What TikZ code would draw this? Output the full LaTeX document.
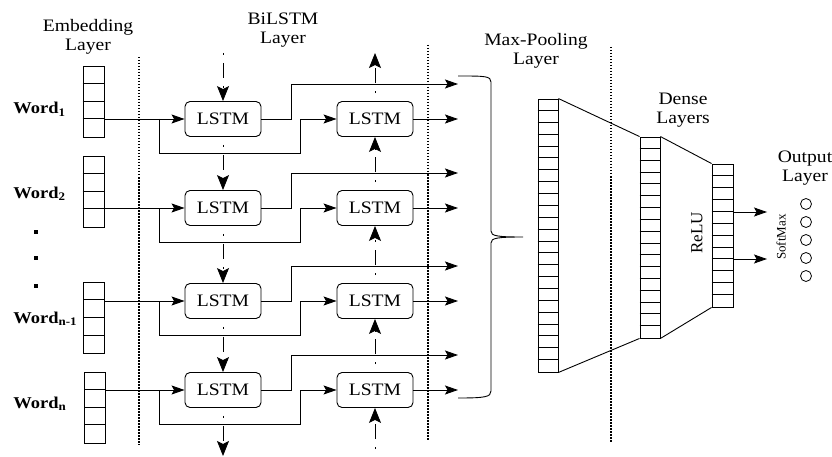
\documentclass[tikz,border=0pt]{standalone}
\usepackage{fontspec}
\setmainfont{Liberation Serif}[FakeStretch=1.12]
\newfontfamily\rotfont{Liberation Serif}
\usetikzlibrary{arrows.meta}
\tikzset{
  lstm/.style={draw, rounded corners=5pt, minimum width=76pt, minimum height=35pt, inner sep=0pt, font=\fontsize{17.5}{20}\selectfont},
  vec/.style={draw, minimum width=21pt, inner sep=0pt},
  arr/.style={-{Stealth[length=13pt,width=9pt,inset=2.5pt]}},
  recur/.style={-{Stealth[length=15pt,width=12pt,inset=3pt]}, dash pattern=on 15pt off 8pt on 2pt off 8pt, dash phase=15pt},
  sep/.style={line width=1.2pt, dash pattern=on 1.5pt off 1.5pt},
  title/.style={align=center, inner sep=0pt, font=\fontsize{17.5}{19}\selectfont},
  word/.style={anchor=base west, inner sep=0pt, font=\fontsize{16.5}{18}\selectfont\bfseries},
  dotsq/.style={fill, minimum size=3.5pt, inner sep=0pt},
  unit/.style={draw, circle, minimum size=11pt, inner sep=0pt}
}
\begin{document}
\begin{tikzpicture}[x=1pt, y=-1pt, line width=0.9pt]
  \useasboundingbox (0,0) rectangle (832,457);
  % layer titles
  \node[title] (embT) at (88,37) {Embedding\\Layer};
  \node[title] (bilT) at (283,30) {BiLSTM\\Layer};
  \node[title] (poolT) at (536,51) {Max-Pooling\\Layer};
  \node[title] (denseT) at (683,110) {Dense\\Layers};
  \node[title] (outT) at (805,168) {Output\\Layer};
  \draw[sep] (139,57) -- (139,445);
  \draw[sep] (428,45) -- (428,441);
  \draw[sep] (611,47) -- (611,442);
  % words and embeddings
  \node[word] (w1) at (13,114) {Word\textsubscript{1}};
  \node[word] (w2) at (13,198) {Word\textsubscript{2}};
  \node[word] (w3) at (13,323) {Word\textsubscript{n-1}};
  \node[word] (w4) at (13,408) {Word\textsubscript{n}};
  \node[dotsq] (d1) at (36,232) {};
  \node[dotsq] (d2) at (36,258) {};
  \node[dotsq] (d3) at (36,286) {};
  \foreach \n/\xc/\yc in {1/93.5/101.5, 2/93.5/191.5, 3/94/318, 4/95/407.5} {
    \node[vec, minimum height=71pt] (emb\n) at (\xc,\yc) {};
    \foreach \k in {1,2,3} \draw (emb\n.north west) ++(0,\k*17.75) -- ++(21,0);
  }
  % BiLSTM
  \foreach \n/\yc in {1/119, 2/208, 3/301, 4/390} {
    \node[lstm] (fwd\n) at (223,\yc) {LSTM};
    \node[lstm] (bwd\n) at (375,\yc) {LSTM};
    \coordinate (br\n) at (159,\yc);
    \coordinate (lo\n) at (300,\yc+34);
    \coordinate (up\n) at (291,\yc-35);
    \coordinate (fo\n) at (458,\yc-35);
    \coordinate (bo\n) at (458,\yc);
    \draw[arr] (emb\n.east |- fwd\n) -- (fwd\n.west);
    \draw[arr] (br\n) |- (lo\n) |- (bwd\n.west);
    \draw[arr] (fwd\n.east) -| (up\n) -- (fo\n);
    \draw[arr] (bwd\n.east) -- (bo\n);
  }
  \coordinate (ftop) at (223,53);
  \coordinate (fbot) at (223,456);
  \coordinate (btop) at (375,53);
  \coordinate (bbot) at (375,457);
  \draw[recur, dash phase=23pt] (ftop) -- (fwd1.north);
  \draw[recur] (fwd1.south) -- (fwd2.north);
  \draw[recur] (fwd2.south) -- (fwd3.north);
  \draw[recur] (fwd3.south) -- (fwd4.north);
  \draw[recur] (fwd4.south) -- (fbot);
  \draw[recur] (bbot) -- (bwd4.south);
  \draw[recur] (bwd4.north) -- (bwd3.south);
  \draw[recur] (bwd3.north) -- (bwd2.south);
  \draw[recur] (bwd2.north) -- (bwd1.south);
  \draw[recur] (bwd1.north) -- (btop);
  % brace
  \draw (458,76) .. controls (485,76) and (491,76) .. (491,82) -- (491,231)
    .. controls (491,236) and (497,237) .. (523,237)
    .. controls (497,237) and (491,238) .. (491,243) -- (491,391)
    .. controls (491,397) and (485,398) .. (458,398);
  % pooling and dense layers
  \node[vec, minimum width=20pt, minimum height=273pt] (pool) at (548,235.5) {};
  \foreach \k in {1,...,22} \draw (pool.north west) ++(0,\k*273/23) -- ++(20,0);
  \node[vec, minimum width=20pt, minimum height=201pt] (dense1) at (650,237.5) {};
  \foreach \k in {1,...,16} \draw (dense1.north west) ++(0,\k*201/17) -- ++(20,0);
  \node[vec, minimum height=143pt] (dense2) at (722.5,235.5) {};
  \foreach \k in {1,...,11} \draw (dense2.north west) ++(0,\k*143/12) -- ++(21,0);
  \draw (pool.north east) -- (dense1.north west);
  \draw (pool.south east) -- (dense1.south west);
  \draw (dense1.north east) -- (dense2.north west);
  \draw (dense1.south east) -- (dense2.south west);
  \node[rotate=90, font=\rotfont\fontsize{17}{19}\selectfont, inner sep=0pt] (relu) at (697,233) {ReLU};
  % output
  \coordinate (sm1) at (767,212);
  \coordinate (sm2) at (767,259);
  \draw[arr] (dense2.east |- sm1) -- (sm1);
  \draw[arr] (dense2.east |- sm2) -- (sm2);
  \node[rotate=90, font=\rotfont\fontsize{13}{15}\selectfont, inner sep=0pt] (smax) at (781,237) {SoftMax};
  \foreach \n/\yc in {1/204, 2/222, 3/240, 4/258, 5/276}
    \node[unit, line width=0.8pt] (out\n) at (806,\yc) {};
\end{tikzpicture}
\end{document}
